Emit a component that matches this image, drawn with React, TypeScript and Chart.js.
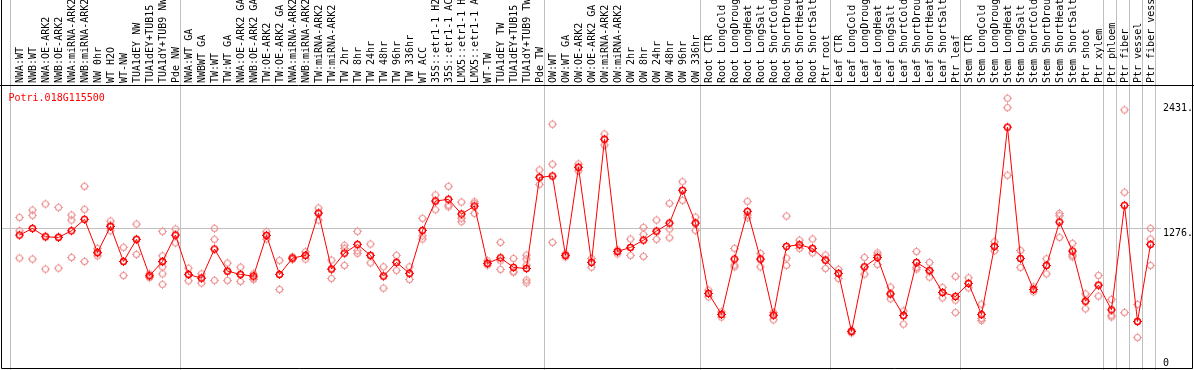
import React, { useEffect, useRef } from "react";
import { Chart, registerables } from "chart.js";

Chart.register(...registerables);

const geneTitle = "Potri.018G115500";

const categories: string[] = [
  "NWA:WT", "NWB:WT", "NWA:OE-ARK2", "NWB:OE-ARK2", "NWA:miRNA-ARK2", "NWB:miRNA-ARK2", "NW 0hr", "WT H2O", "WT-NW", "TUA1dEY NW", "TUA1dEY+TUB15", "TUA1dY+TUB9 NW", "Pde NW",
  "NWA:WT GA", "NWBWT GA", "TW:WT", "TW:WT GA", "NWA:OE-ARK2 GA", "NWB:OE-ARK2 GA", "TW:OE-ARK2", "TW:OE-ARK2 GA", "NWA:miRNA-ARK2", "NWB:miRNA-ARK2", "TW:miRNA-ARK2", "TW:miRNA-ARK2", "TW 2hr", "TW 8hr", "TW 24hr", "TW 48hr", "TW 96hr", "TW 336hr", "WT ACC", "35S::etr1-1 H2O", "35S::etr1-1 ACC", "LMX5::etr1-1 H2O", "LMX5::etr1-1 ACC", "WT-TW", "TUA1dEY TW", "TUA1dEY+TUB15", "TUA1dY+TUB9 TW", "Pde TW",
  "OW:WT", "OW:WT GA", "OW:OE-ARK2", "OW:OE-ARK2 GA", "OW:miRNA-ARK2", "OW:miRNA-ARK2", "OW 2hr", "OW 8hr", "OW 24hr", "OW 48hr", "OW 96hr", "OW 336hr",
  "Root CTR", "Root LongCold", "Root LongDrought", "Root LongHeat", "Root LongSalt", "Root ShortCold", "Root ShortDrought", "Root ShortHeat", "Root ShortSalt", "Ptr root",
  "Leaf CTR", "Leaf LongCold", "Leaf LongDrought", "Leaf LongHeat", "Leaf LongSalt", "Leaf ShortCold", "Leaf ShortDrought", "Leaf ShortHeat", "Leaf ShortSalt", "Ptr leaf",
  "Stem CTR", "Stem LongCold", "Stem LongDrought", "Stem LongHeat", "Stem LongSalt", "Stem ShortCold", "Stem ShortDrought", "Stem ShortHeat", "Stem ShortSalt", "Ptr shoot", "Ptr xylem",
  "Ptr phloem", "Ptr fiber", "Ptr vessel", "Ptr fiber vessel",
];

// index of the last category of each group (a separator is drawn after it)
const groupEnds: number[] = [12, 40, 52, 62, 72, 83, 84, 85, 86, 87];

const means: number[] = [
  1214, 1276, 1198, 1192, 1254, 1360, 1053, 1294, 969, 1174, 836, 969, 1214,
  848, 814, 1084, 879, 848, 833, 1211, 848, 1000, 1025, 1418, 898, 1046, 1127, 1025, 833, 960, 858, 1257, 1530, 1546, 1409, 1483, 951, 1003, 914, 904, 1750,
  1762, 1025, 1843, 960, 2103, 1062, 1099, 1167, 1251, 1325, 1629, 1325,
  672, 477, 991, 1434, 991, 470, 1109, 1124, 1090, 981,
  858, 319, 919, 1006, 668, 467, 960, 886, 681, 644,
  765, 477, 1109, 2215, 997, 709, 932, 1335, 1065, 600, 749,
  520, 1490, 412, 1127,
];

const replicates: number[][] = [
  [1378, 1254, 1000], [1446, 1397, 991], [1502, 1204, 898], [1471, 1198, 907], [1400, 1353, 1006],
  [1666, 1453, 969], [1090, 1044, 1021], [1344, 1307, 1254], [1100, 969, 839], [1316, 1174, 1034],
  [820, 836, 852], [1248, 1021, 966, 919, 854, 756], [1270, 1214, 1142],
  [907, 848, 789], [854, 814, 768], [1276, 1174, 793], [954, 879, 793], [916, 848, 783],
  [854, 817, 802], [1245, 1211, 1177], [979, 848, 709], [1012, 1000, 988], [1059, 1025, 991],
  [1465, 1418, 1353], [981, 898, 811], [1119, 1090, 932], [1248, 1068, 1044], [1130, 1025, 956],
  [919, 833, 721], [1025, 960, 886], [919, 858, 802], [1369, 1207, 1177], [1586, 1530, 1449],
  [1666, 1493, 1477], [1520, 1369, 1338], [1523, 1508, 1415], [975, 951, 935], [1146, 975, 895],
  [997, 873, 870], [1028, 991, 935, 796, 771], [1818, 1750, 1685],
  [2243, 1871, 1146], [1040, 1025, 1010], [1874, 1843, 1811], [997, 960, 916], [2152, 2103, 2050],
  [1077, 1062, 1040], [1177, 1099, 1025], [1285, 1220, 1016], [1353, 1245, 1174], [1508, 1270, 1189],
  [1709, 1629, 1536], [1381, 1325, 1257],
  [703, 672, 640], [501, 477, 452], [1090, 935, 919], [1527, 1400, 1375], [1044, 991, 919],
  [495, 470, 427], [1390, 1000, 932], [1167, 1124, 1090], [1177, 1090, 1049], [1028, 981, 904],
  [895, 858, 811], [331, 319, 306], [1006, 919, 851], [1049, 1028, 941], [731, 668, 622],
  [510, 467, 387], [1062, 914, 898], [960, 873, 823], [728, 681, 631], [830, 610, 495],
  [817, 765, 724], [572, 440, 421], [1152, 1109, 1068], [2484, 2397, 1769], [1071, 997, 914],
  [733, 709, 687], [994, 932, 854], [1415, 1393, 1192], [1137, 1028, 1012], [668, 600, 529],
  [839, 749, 647],
  [616, 470, 454], [2376, 1611, 495], [570, 412, 263], [1276, 1177, 932],
];

const yTickValues: number[] = [0, 1276, 2431];
const yTickLabels: string[] = ["0", "1276.", "2431."];
const yGridValues: number[] = [1276];

const W = 1194;
const H = 370;
const MONO = '10px "DejaVu Sans Mono", "Liberation Mono", monospace';
const GRAY = "#c0c0c0";
const RED = "#ff0000";
const PINK = "#ee9494";

function makeMarker(color: string, lw: number): HTMLCanvasElement {
  const c = document.createElement("canvas");
  c.width = 11;
  c.height = 11;
  const g = c.getContext("2d")!;
  g.strokeStyle = color;
  g.fillStyle = color;
  g.lineWidth = lw;
  g.beginPath();
  g.arc(5.5, 5.5, 3, 0, Math.PI * 2);
  g.stroke();
  g.fillRect(5, 1, 1, 1);
  g.fillRect(5, 9, 1, 1);
  g.fillRect(1, 5, 1, 1);
  g.fillRect(9, 5, 1, 1);
  return c;
}

const decorPlugin = {
  id: "decor",
  beforeDraw(chart: any) {
    const { ctx, width, height, chartArea } = chart;
    const xs = chart.scales.x;
    const ys = chart.scales.y;
    ctx.save();
    ctx.fillStyle = "#ffffff";
    ctx.fillRect(0, 0, width, height);

    ctx.strokeStyle = GRAY;
    ctx.lineWidth = 1;
    // group separators
    const sepX: number[] = [xs.getPixelForValue(-0.5) - 2.5];
    groupEnds.forEach((i) => sepX.push(xs.getPixelForValue(i) + 5));
    sepX.forEach((px) => {
      const x = Math.floor(px) + 0.5;
      ctx.beginPath();
      ctx.moveTo(x, 0);
      ctx.lineTo(x, height);
      ctx.stroke();
    });
    // horizontal grid
    yGridValues.forEach((v) => {
      const y = Math.floor(ys.getPixelForValue(v)) + 0.5;
      ctx.beginPath();
      ctx.moveTo(1, y);
      ctx.lineTo(chartArea.right + 4, y);
      ctx.stroke();
    });

    // black frame
    ctx.strokeStyle = "#000000";
    ctx.beginPath();
    ctx.moveTo(0, Math.floor(chartArea.top) + 0.5);
    ctx.lineTo(width, Math.floor(chartArea.top) + 0.5);
    ctx.moveTo(1.5, 0);
    ctx.lineTo(1.5, Math.floor(chartArea.bottom) + 0.5);
    ctx.lineTo(width - 1.5, Math.floor(chartArea.bottom) + 0.5);
    ctx.lineTo(width - 1.5, 0);
    ctx.stroke();

    // category labels (rotated)
    ctx.fillStyle = "#000000";
    ctx.font = MONO;
    ctx.textAlign = "left";
    ctx.textBaseline = "alphabetic";
    categories.forEach((lab, i) => {
      const cx = xs.getPixelForValue(i);
      ctx.save();
      ctx.translate(cx + 3.5, chartArea.top - 2);
      ctx.rotate(-Math.PI / 2);
      ctx.fillText(lab, 0, 0);
      ctx.restore();
    });

    // title
    ctx.fillStyle = RED;
    ctx.fillText(geneTitle, 8.5, chartArea.top + 15.7);

    // y tick labels (right side)
    ctx.fillStyle = "#000000";
    yTickValues.forEach((v, k) => {
      const yy = Math.min(ys.getPixelForValue(v), chartArea.bottom - 10);
      ctx.fillText(yTickLabels[k], chartArea.right + 6, yy + 7.5);
    });
    ctx.restore();
  },
};

export default function App() {
  const ref = useRef<HTMLCanvasElement | null>(null);

  useEffect(() => {
    if (!ref.current) return;
    const meanMarker = makeMarker(RED, 1.4);
    const repMarker = makeMarker(PINK, 1.1);
    const chart = new Chart(ref.current, {
      type: "line",
      data: {
        datasets: [
          {
            label: "mean",
            data: means.map((v, i) => ({ x: i, y: v })),
            borderColor: RED,
            backgroundColor: RED,
            borderWidth: 1,
            tension: 0,
            pointStyle: meanMarker as any,
            pointRadius: 5,
            order: 0,
          },
          {
            label: "replicates",
            data: replicates.flatMap((r, i) => r.map((v) => ({ x: i, y: v }))),
            showLine: false,
            borderColor: PINK,
            backgroundColor: PINK,
            pointStyle: repMarker as any,
            pointRadius: 5,
            order: 1,
          },
        ],
      },
      options: {
        animation: false,
        responsive: false,
        devicePixelRatio: 1,
        layout: { autoPadding: false, padding: { left: 13, right: 37, top: 85, bottom: 2 } },
        scales: {
          x: { type: "linear", min: -0.5, max: categories.length - 0.5, display: false },
          y: { type: "linear", min: -20, max: 2607, display: false },
        },
        plugins: {
          legend: { display: false },
          tooltip: { enabled: false },
          title: { display: false },
        },
      },
      plugins: [decorPlugin],
    });
    return () => chart.destroy();
  }, []);

  return (
    <div style={{ position: "absolute", left: 0, top: 0, width: W, height: H }}>
      <canvas ref={ref} width={W} height={H} style={{ display: "block", width: W, height: H }} />
    </div>
  );
}
